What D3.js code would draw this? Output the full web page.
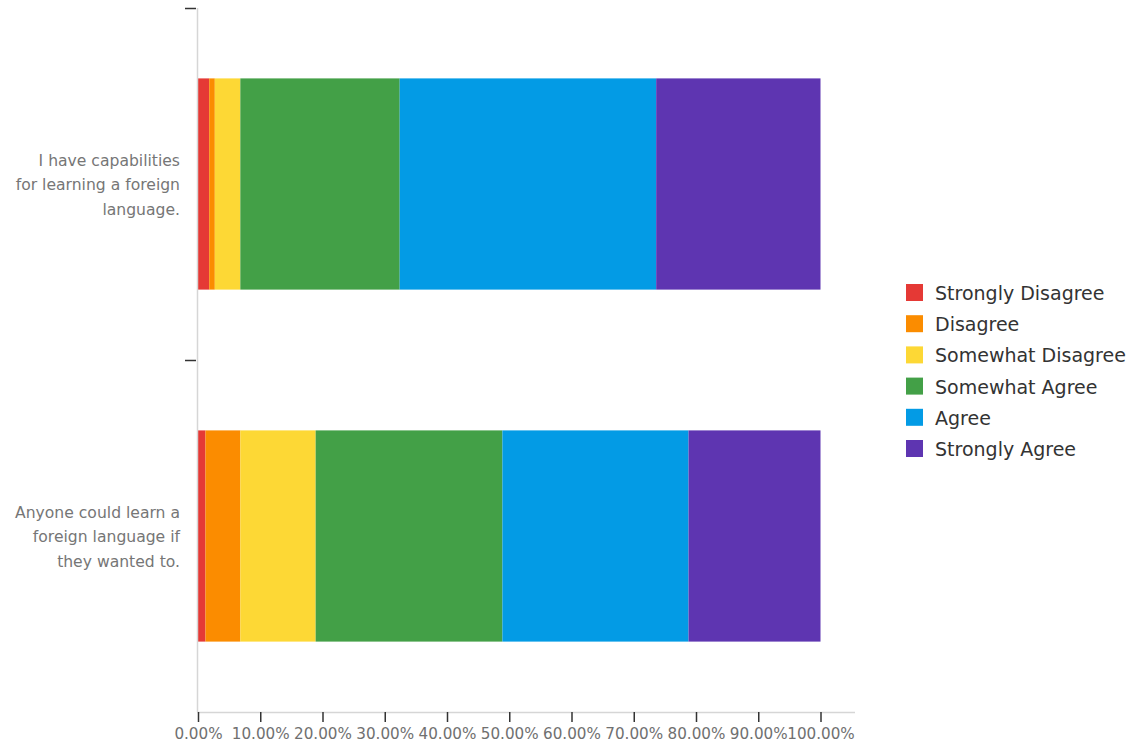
<!DOCTYPE html>
<html>
<head>
<meta charset="utf-8">
<script src="https://cdn.jsdelivr.net/npm/d3@7"></script>
<style>
  html, body { margin: 0; padding: 0; background: #fff; }
  svg { display: block; font-family: "DejaVu Sans", "Open Sans", sans-serif; }
</style>
</head>
<body>
<svg id="chart" width="1139" height="748"></svg>
<script>
// Survey statements (one horizontal bar each), wrapped label lines
const categories = [
  "I have capabilities for learning a foreign language.",
  "Anyone could learn a foreign language if they wanted to."
];
const categoryLines = [
  ["I have capabilities", "for learning a foreign", "language."],
  ["Anyone could learn a", "foreign language if", "they wanted to."]
];

// Response scale, in stacking order
const responses = [
  "Strongly Disagree", "Disagree", "Somewhat Disagree",
  "Somewhat Agree", "Agree", "Strongly Agree"
];
const colors = ["#E53935", "#FB8C00", "#FDD835", "#43A047", "#039BE5", "#5E35B1"];

// Percent of respondents per response, per statement
const stronglyDisagree = [1.8, 1.2];
const disagree         = [0.9, 5.6];
const somewhatDisagree = [4.1, 12.1];
const somewhatAgree    = [25.6, 30.0];
const agree            = [41.2, 29.9];
const stronglyAgree    = [26.4, 21.2];

const xTicks = [0, 10, 20, 30, 40, 50, 60, 70, 80, 90, 100];

const series = [stronglyDisagree, disagree, somewhatDisagree, somewhatAgree, agree, stronglyAgree];
const rows = categories.map((c, i) => {
  const r = { category: c };
  responses.forEach((k, j) => { r[k] = series[j][i]; });
  return r;
});

const svg = d3.select("#chart");

const plotLeft = 198, plotRight = 855, plotTop = 8, plotBottom = 712;

const x = d3.scaleLinear().domain([0, 100]).range([plotLeft, 820.5]);
const y = d3.scaleBand().domain(categories).range([plotTop, plotBottom]).paddingInner(0).paddingOuter(0);
const barPad = 0.2;

const stacked = d3.stack().keys(responses)(rows);

// Bars
svg.append("g")
  .selectAll("g")
  .data(stacked)
  .join("g")
    .attr("fill", (d, i) => colors[i])
  .selectAll("rect")
  .data(d => d)
  .join("rect")
    .attr("x", d => x(d[0]))
    .attr("width", d => x(d[1]) - x(d[0]))
    .attr("y", d => y(d.data.category) + y.bandwidth() * barPad)
    .attr("height", y.bandwidth() * (1 - 2 * barPad));

// Axis lines
svg.append("line")
  .attr("x1", plotLeft - 0.5).attr("x2", plotLeft - 0.5)
  .attr("y1", plotTop).attr("y2", plotBottom)
  .attr("stroke", "#d6d6d6").attr("stroke-width", 1.5);
svg.append("line")
  .attr("x1", plotLeft - 0.5).attr("x2", plotRight)
  .attr("y1", plotBottom + 0.5).attr("y2", plotBottom + 0.5)
  .attr("stroke", "#d6d6d6").attr("stroke-width", 1.5);

// Category boundary ticks on the y axis
svg.append("g")
  .selectAll("line")
  .data(categories)
  .join("line")
    .attr("x1", plotLeft - 13).attr("x2", plotLeft - 2)
    .attr("y1", d => Math.round(y(d)) + 0.5)
    .attr("y2", d => Math.round(y(d)) + 0.5)
    .attr("stroke", "#333").attr("stroke-width", 1.5);

// Category labels
const catG = svg.append("g")
  .selectAll("text")
  .data(categories)
  .join("text")
    .attr("text-anchor", "end")
    .attr("fill", "#767676")
    .attr("font-size", 15.6)
    .attr("y", d => y(d) + y.bandwidth() / 2);
catG.each(function(d, i) {
  const lines = categoryLines[i];
  const lh = 24.5;
  d3.select(this).selectAll("tspan")
    .data(lines)
    .join("tspan")
      .attr("x", 180)
      .attr("dy", (l, k) => k === 0 ? (-(lines.length - 1) / 2 * lh + 6) : lh)
      .text(l => l);
});

// X axis ticks and labels
const xAxis = d3.axisBottom(x)
  .tickValues(xTicks)
  .tickSize(10)
  .tickPadding(6)
  .tickFormat(d => d.toFixed(2) + "%");
const xg = svg.append("g")
  .attr("transform", `translate(0,${plotBottom})`)
  .call(xAxis);
xg.select(".domain").remove();
xg.selectAll(".tick line").attr("stroke", "#333").attr("stroke-width", 1.5);
xg.selectAll(".tick text")
  .attr("fill", "#707070")
  .attr("font-size", 15.2)
  .attr("font-family", "'DejaVu Sans', 'Open Sans', sans-serif");

// Legend
const legend = svg.append("g")
  .selectAll("g")
  .data(responses)
  .join("g")
    .attr("transform", (d, i) => `translate(906,${284 + i * 31.2})`);
legend.append("rect")
  .attr("width", 17).attr("height", 17)
  .attr("fill", (d, i) => colors[i]);
legend.append("text")
  .attr("x", 29)
  .attr("y", 16)
  .attr("fill", "#333")
  .attr("font-size", 19)
  .text(d => d);
</script>
</body>
</html>
